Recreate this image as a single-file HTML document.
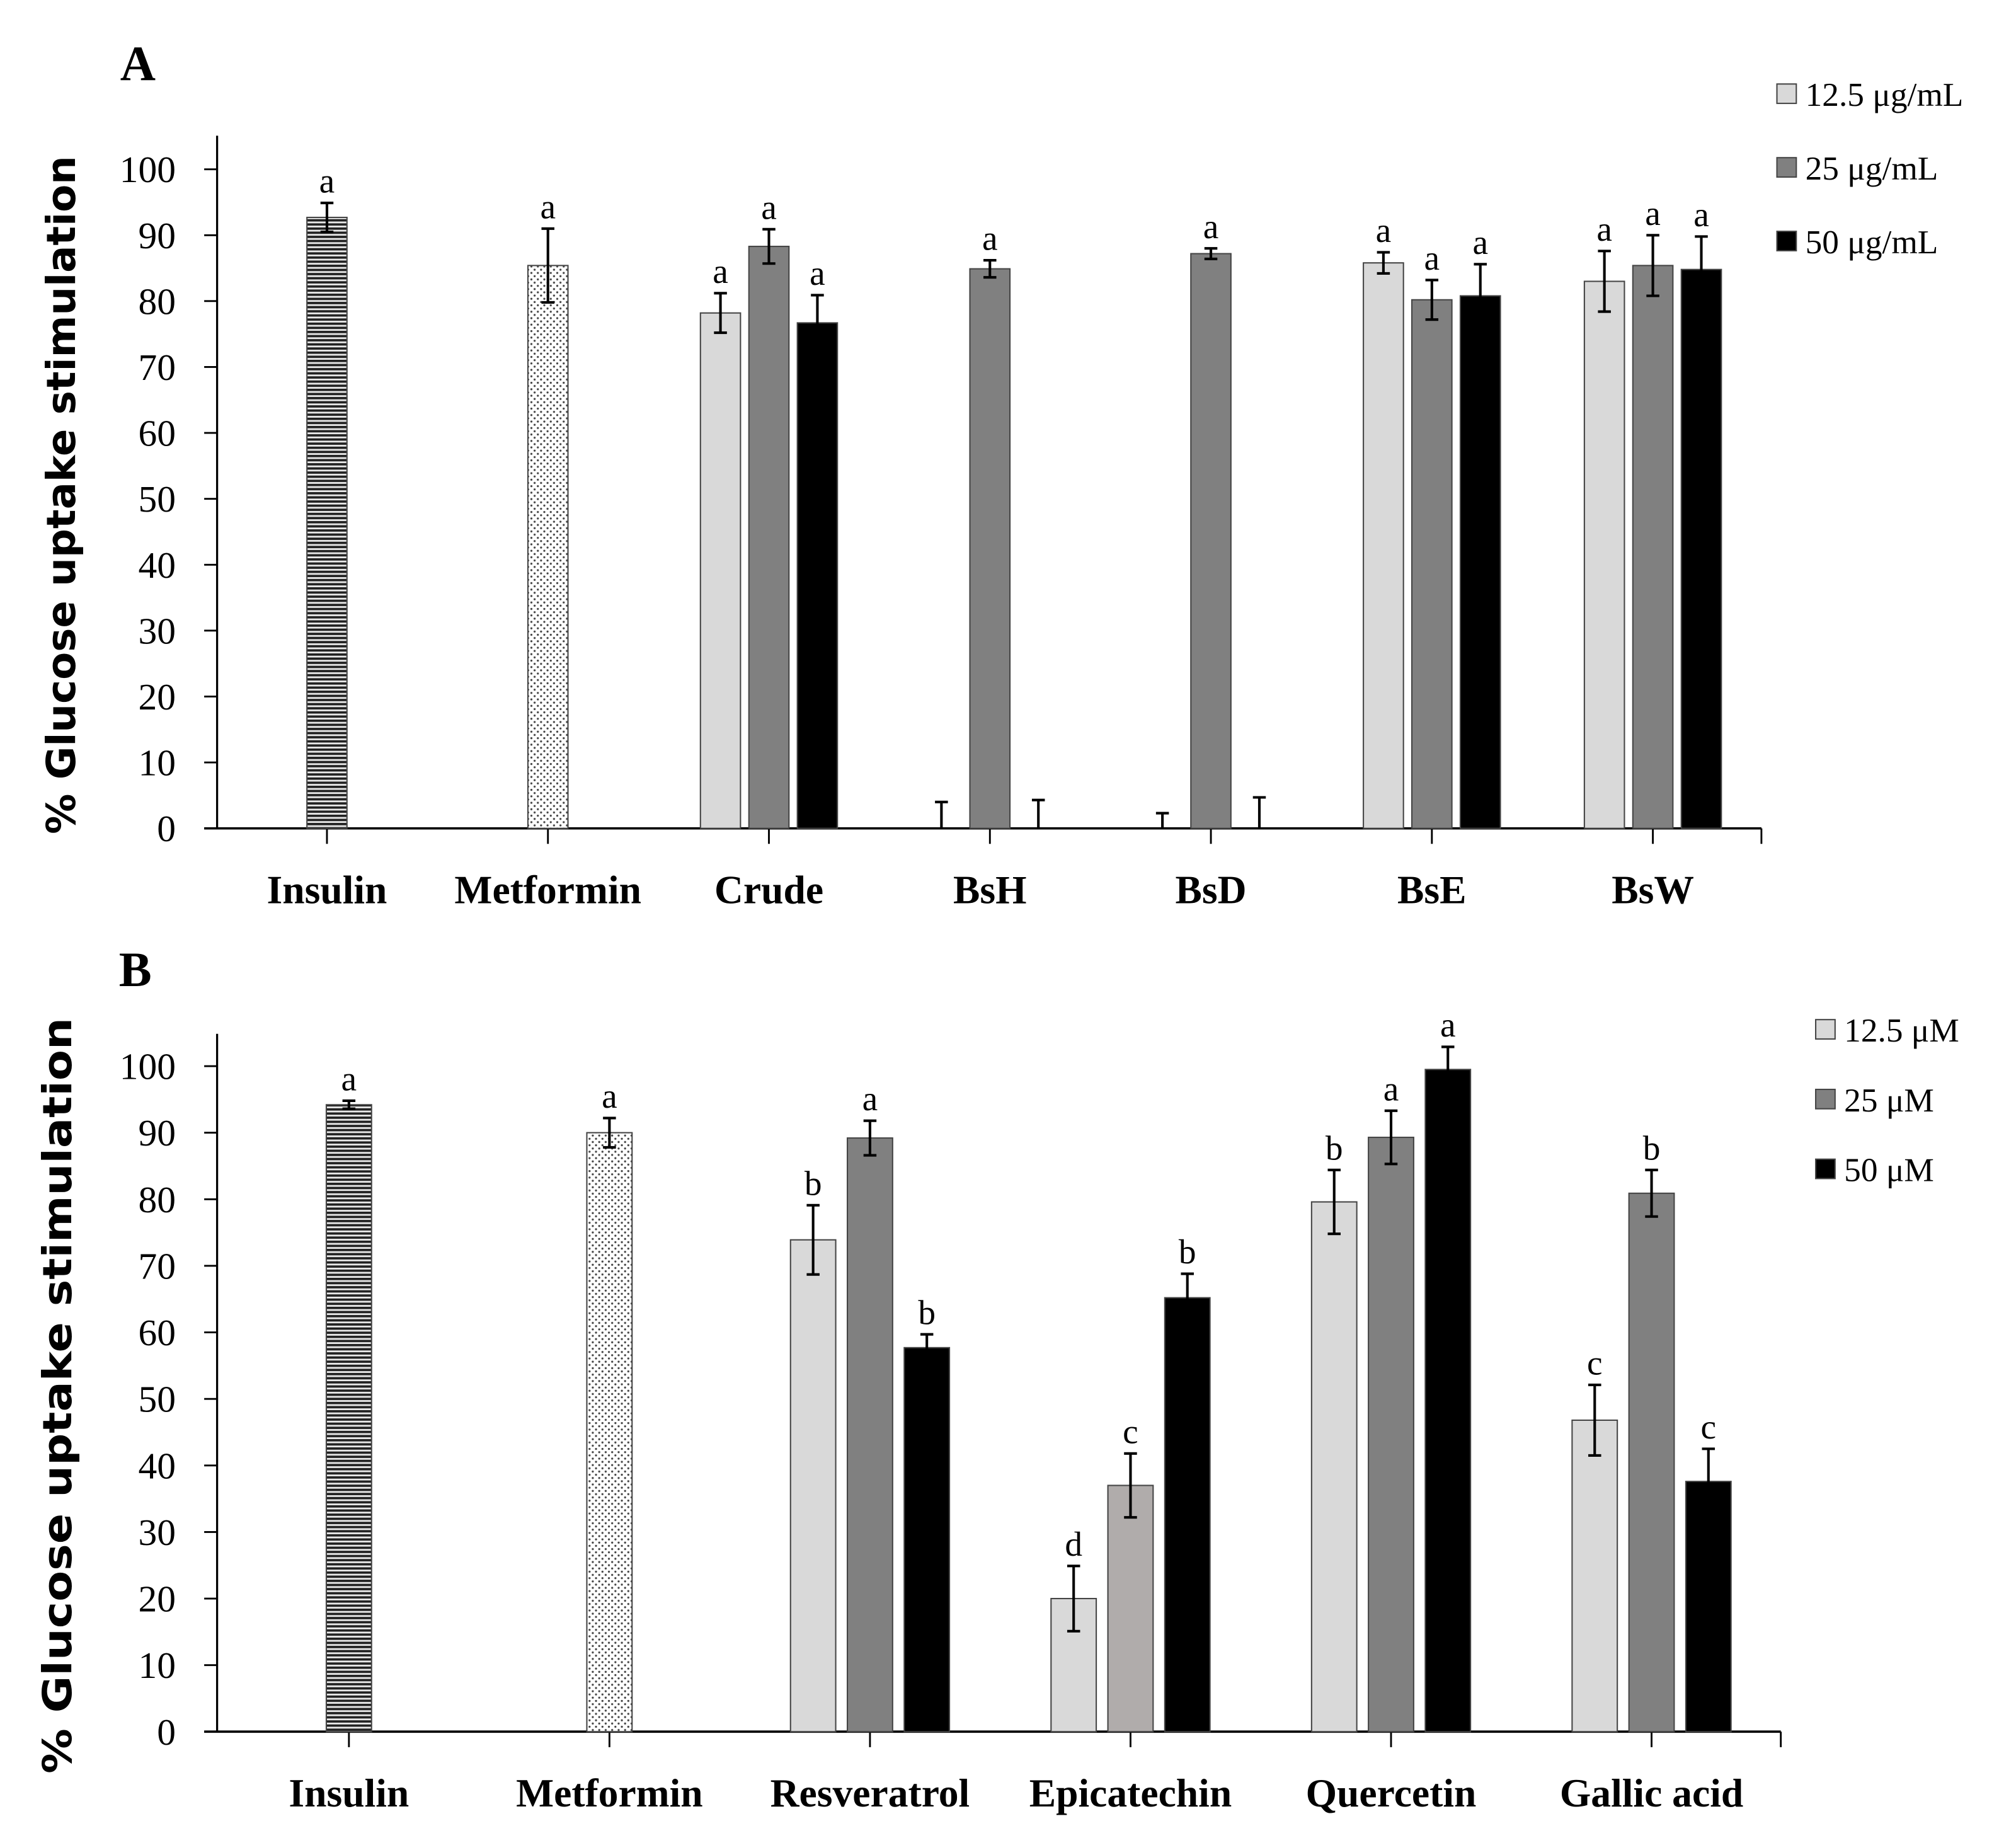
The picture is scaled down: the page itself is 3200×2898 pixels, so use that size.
<!DOCTYPE html>
<html><head><meta charset="utf-8"><style>
html,body{margin:0;padding:0;background:#fff;}
svg{display:block;}
text{font-family:"Liberation Serif",serif;fill:#000;}
</style></head><body>
<svg id="fig" xmlns="http://www.w3.org/2000/svg" width="3200" height="2898" viewBox="0 0 1560 1413" preserveAspectRatio="none">
<defs>
<pattern id="stripes" width="4" height="3.2" patternUnits="userSpaceOnUse"><rect width="4" height="3.2" fill="#e8e8e8"/><rect width="4" height="1.8" fill="#222"/></pattern>
<pattern id="dots" width="5" height="5" patternUnits="userSpaceOnUse"><rect width="5" height="5" fill="#fff"/><circle cx="1.2" cy="1.2" r="0.8" fill="#444"/><circle cx="3.7" cy="3.7" r="0.8" fill="#444"/></pattern>
</defs>
<g id="panelA"></g>
<g id="panelB"></g>
</svg>
<script>
// Panel A data
const catsA = ["Insulin","Metformin","Crude","BsH","BsD","BsE","BsW"];
const lowA  = [null, null, 78.2, 0, 0, 85.8, 83.0];
const midA  = [92.7, 85.4, 88.3, 84.9, 87.2, 80.2, 85.4];
const highA = [null, null, 76.7, 0, 0, 80.8, 84.8];
const lowErrA  = [0,0,3.0,4.0,2.3,1.6,4.6];
const midErrA  = [2.2,5.6,2.6,1.3,0.8,3.0,4.6];
const highErrA = [0,0,4.2,4.3,4.7,4.8,5.0];
const lowLetA  = ["","","a","","","a","a"];
const midLetA  = ["a","a","a","a","a","a","a"];
const highLetA = ["","","a","","","a","a"];
const legendA = ["12.5 μg/mL","25 μg/mL","50 μg/mL"];
// Panel B data
const catsB = ["Insulin","Metformin","Resveratrol","Epicatechin","Quercetin","Gallic acid"];
const lowB  = [null, null, 73.9, 20.0, 79.6, 46.8];
const midB  = [94.2, 90.0, 89.2, 37.0, 89.3, 80.9];
const highB = [null, null, 57.7, 65.2, 99.5, 37.6];
const lowErrB  = [0,0,5.2,4.9,4.8,5.3];
const midErrB  = [0.6,2.2,2.6,4.8,4.0,3.5];
const highErrB = [0,0,2.0,3.6,3.4,4.9];
const lowLetB  = ["","","b","d","b","c"];
const midLetB  = ["a","a","a","c","a","b"];
const highLetB = ["","","b","b","a","c"];
const legendB = ["12.5 μM","25 μM","50 μM"];
const yTicks = [0,10,20,30,40,50,60,70,80,90,100];

const NS="http://www.w3.org/2000/svg";
function mk(p,tag,at){const e=document.createElementNS(NS,tag);for(const k in at)e.setAttribute(k,at[k]);p.appendChild(e);return e;}

function panel(g,cfg){
  const y=v=>cfg.y0-(v/100)*(cfg.y0-cfg.y100);
  const pl=mk(g,"text",{x:cfg.letterX,y:cfg.letterY,"font-size":38,"font-weight":"bold"});pl.textContent=cfg.letter;
  
  
  const yt=mk(g,"text",{x:0,y:0,"font-size":31,"font-weight":"bold",style:"font-family:'DejaVu Sans',sans-serif","text-anchor":"middle",textLength:cfg.titleLen,lengthAdjust:"spacingAndGlyphs",transform:`translate(${cfg.titleX},${(cfg.y0+cfg.yTop)/2+10}) rotate(-90)`});
  yt.textContent="% Glucose uptake stimulation";
  
  
  const ya=mk(g,"line",{x1:168,x2:168,y1:cfg.yTop,y2:cfg.y0,stroke:"#000","stroke-width":1.6});
  
  
  yTicks.forEach(t=>{
    mk(g,"line",{x1:158,x2:168,y1:y(t),y2:y(t),stroke:"#000","stroke-width":1.4});
    const tl=mk(g,"text",{x:136,y:y(t)+10,"font-size":29,"text-anchor":"end"});tl.textContent=t;
    
    
  });
  const xa=mk(g,"line",{x1:158,x2:cfg.xEnd,y1:cfg.y0,y2:cfg.y0,stroke:"#000","stroke-width":1.8});
  
  
  mk(g,"line",{x1:cfg.xEnd,x2:cfg.xEnd,y1:cfg.y0,y2:cfg.y0+12,stroke:"#000","stroke-width":1.4});
  const fills=["#d9d9d9","#808080","#000"];
  cfg.cats.forEach((c,i)=>{
    const cx=cfg.x0+i*cfg.step;
    mk(g,"line",{x1:cx,x2:cx,y1:cfg.y0,y2:cfg.y0+12,stroke:"#000","stroke-width":1.4});
    const cl=mk(g,"text",{x:cx,y:cfg.y0+58,"font-size":31,"font-weight":"bold","text-anchor":"middle"});cl.textContent=c;
    
    
    const series=[[cfg.low,cfg.lowE,cfg.lowL,-cfg.off],[cfg.mid,cfg.midE,cfg.midL,0],[cfg.high,cfg.highE,cfg.highL,cfg.off]];
    series.forEach((s,si)=>{
      const v=s[0][i]; if(v===null)return;
      const bx=cx+s[3];
      let fill=fills[si];
      if(si===1&&i===0)fill="url(#stripes)";
      if(si===1&&i===1)fill="url(#dots)";
      if(cfg.lighter&&si===1&&i===cfg.lighter)fill="#b0acab";
      if(v>0){
        const r=mk(g,"rect",{x:bx-cfg.bw/2,y:y(v),width:cfg.bw,height:cfg.y0-y(v),fill:fill,stroke:"#444","stroke-width":1});
        
        
      }
      const e=s[1][i];
      const top=y(v+e), bot=y(Math.max(0,v-e));
      mk(g,"line",{x1:bx,x2:bx,y1:top,y2:bot,stroke:"#000","stroke-width":2});
      mk(g,"line",{x1:bx-5,x2:bx+5,y1:top,y2:top,stroke:"#000","stroke-width":2});
      if(v>0)mk(g,"line",{x1:bx-5,x2:bx+5,y1:bot,y2:bot,stroke:"#000","stroke-width":2});
      if(s[2][i]){const lt=mk(g,"text",{x:bx,y:top-8,"font-size":27,"text-anchor":"middle"});lt.textContent=s[2][i];
        
        }
    });
  });
  cfg.legend.forEach((l,i)=>{
    const ly=cfg.legY+i*cfg.legStep;
    const sq=mk(g,"rect",{x:cfg.legX,y:ly-8,width:15,height:15,fill:fills[i],stroke:"#444","stroke-width":1});
    
    
    const lt=mk(g,"text",{x:cfg.legX+22,y:ly+9,"font-size":26});lt.textContent=l;
    
    
  });
}
panel(document.getElementById("panelA"),{letter:"A",letterX:93,letterY:62,titleX:58,titleLen:525,y0:641,y100:131,yTop:105,xEnd:1363,
  cats:catsA,x0:253,step:171,off:37.5,bw:31,low:lowA,mid:midA,high:highA,lowE:lowErrA,midE:midErrA,highE:highErrA,
  lowL:lowLetA,midL:midLetA,highL:highLetA,legend:legendA,legX:1375,legY:73,legStep:57});
panel(document.getElementById("panelB"),{letter:"B",letterX:92,letterY:763,titleX:55,titleLen:585,y0:1340,y100:825,yTop:800,xEnd:1378,
  cats:catsB,x0:270,step:201.6,off:44,bw:35,low:lowB,mid:midB,high:highB,lowE:lowErrB,midE:midErrB,highE:highErrB,
  lowL:lowLetB,midL:midLetB,highL:highLetB,legend:legendB,legX:1405,legY:797,legStep:54,lighter:3});
</script>
</body></html>
